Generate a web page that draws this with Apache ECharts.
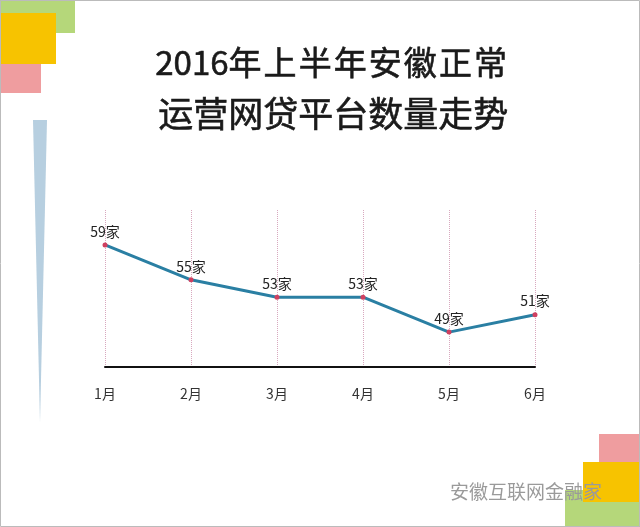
<!DOCTYPE html>
<html><head><meta charset="utf-8">
<script src="https://cdn.jsdelivr.net/npm/echarts@6/dist/echarts.min.js"></script>
<style>html,body{margin:0;padding:0;background:#fff}#c{width:640px;height:527px}</style>
</head><body><div id="c"></div>
<script>
const months = ['1月','2月','3月','4月','5月','6月'];
const counts = [59, 55, 53, 53, 49, 51];
const unit = '家';
const chart = echarts.init(document.getElementById('c'));
const font = '"Noto Sans CJK SC", sans-serif';
chart.setOption({
  backgroundColor: '#ffffff',
  animation: false,
  grid: {left: 105, right: 105, top: 210, bottom: 160},
  xAxis: {
    type: 'category', data: months, boundaryGap: false,
    axisLine: {lineStyle: {color: '#111', width: 2}},
    axisTick: {show: false},
    axisLabel: {margin: 20, fontSize: 14, color: '#333', fontFamily: font},
    splitLine: {show: true, lineStyle: {type: 'dotted', color: '#d8a8be', width: 1}}
  },
  yAxis: {type: 'value', min: 45, max: 63, show: false, splitLine: {show: false}},
  series: [{
    type: 'line', data: counts, symbol: 'circle', symbolSize: 5,
    itemStyle: {color: '#d04060'},
    lineStyle: {color: '#2a7fa3', width: 3},
    label: {show: true, position: 'top', distance: 4, fontSize: 14, color: '#222', fontFamily: font,
      formatter: p => p.value + unit}
  }],
  graphic: [
    {type: 'rect', shape: {x: 0.5, y: 0.5, width: 639, height: 526}, style: {fill: 'none', stroke: '#bbb', lineWidth: 1}, z: 100},
    {type: 'rect', shape: {x: 0, y: 0, width: 75, height: 33}, style: {fill: '#b5d77a'}},
    {type: 'rect', shape: {x: 0, y: 13, width: 56, height: 51}, style: {fill: '#f7c300'}},
    {type: 'rect', shape: {x: 0, y: 64, width: 41, height: 29}, style: {fill: '#ef9d9f'}},
    {type: 'rect', shape: {x: 599, y: 434, width: 41, height: 30}, style: {fill: '#ef9d9f'}},
    {type: 'rect', shape: {x: 565, y: 490, width: 75, height: 37}, style: {fill: '#b5d77a'}},
    {type: 'rect', shape: {x: 583, y: 462, width: 57, height: 40}, style: {fill: '#f7c300'}},
    {type: 'polygon', shape: {points: [[33, 120], [47, 120], [40, 423]]}, style: {fill: '#b7cfe0'}},
    {type: 'text', top: 46, left: 155, style: {text: '2016年\u200A上\u200A半\u200A年\u200A安\u200A徽\u200A正\u200A常', fontSize: 33, fill: '#1a1a1a', fontFamily: font, stroke: '#1a1a1a', lineWidth: 0.6}},
    {type: 'text', top: 96, left: 158, style: {text: '运营网贷平台数量走势', fontSize: 35, fill: '#1a1a1a', fontFamily: font, stroke: '#1a1a1a', lineWidth: 0.6}},
    {type: 'text', top: 482, left: 450, style: {text: '安徽互联网金融家', fontSize: 19, fill: '#9a9a9a', fontFamily: font}}
  ]
});
</script></body></html>
